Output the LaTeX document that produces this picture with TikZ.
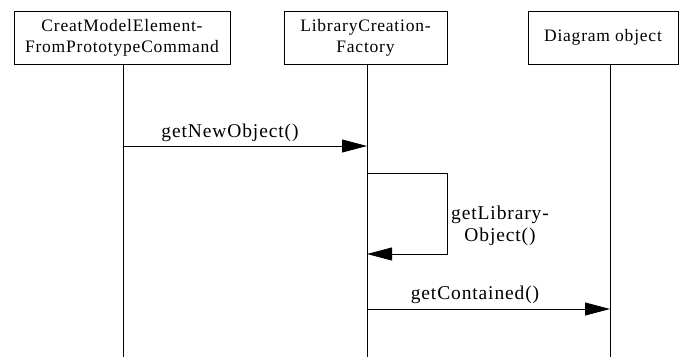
\documentclass[tikz,border=0pt]{standalone}
\usepackage{fontspec}
\setmainfont{Liberation Serif}
\newfontfamily\spaced[LetterSpace=4.5]{Liberation Serif}
\usetikzlibrary{arrows.meta}
\begin{document}
\begin{tikzpicture}[x=1pt,y=-1pt,
  obj/.style={draw,line width=1pt,minimum height=53pt,align=center,inner sep=0pt,font=\spaced\fontsize{17.5}{21}\selectfont},
  life/.style={line width=0.8pt},
  msg/.style={line width=0.8pt,-{Triangle[length=25pt,width=13pt]}},
  lbl/.style={font=\spaced\fontsize{19.5}{22}\selectfont,align=center,inner sep=0pt}]
\useasboundingbox (0,0) rectangle (680,357);
\node[obj,minimum width=216pt] (a) at (122,37.5) {CreatModelElement-\\FromPrototypeCommand};
\node[obj,minimum width=163pt] (b) at (365.5,37.5) {LibraryCreation-\\Factory};
\node[obj,minimum width=150pt] (c) at (603,37.5) {Diagram object};
\coordinate (ae) at (123,357);
\coordinate (be) at (367,357);
\coordinate (ce) at (610,357);
\draw[life] (a.south -| ae) -- (ae);
\draw[life] (b.south -| be) -- (be);
\draw[life] (c.south -| ce) -- (ce);
\coordinate (m1s) at (123,146);
\coordinate (m1e) at (367,146);
\draw[msg] (m1s) -- (m1e);
\node[lbl] (l1) at (230,133) {getNewObject()};
\coordinate (s1) at (367,173);
\coordinate (s2) at (447,173);
\coordinate (s3) at (447,254);
\coordinate (s4) at (367,254);
\draw[msg] (s1) -- (s2) -- (s3) -- (s4);
\node[lbl] (l2) at (500,226) {getLibrary-\\Object()};
\coordinate (m3s) at (367,309);
\coordinate (m3e) at (610,309);
\draw[msg] (m3s) -- (m3e);
\node[lbl] (l3) at (475,295) {getContained()};
\end{tikzpicture}
\end{document}
